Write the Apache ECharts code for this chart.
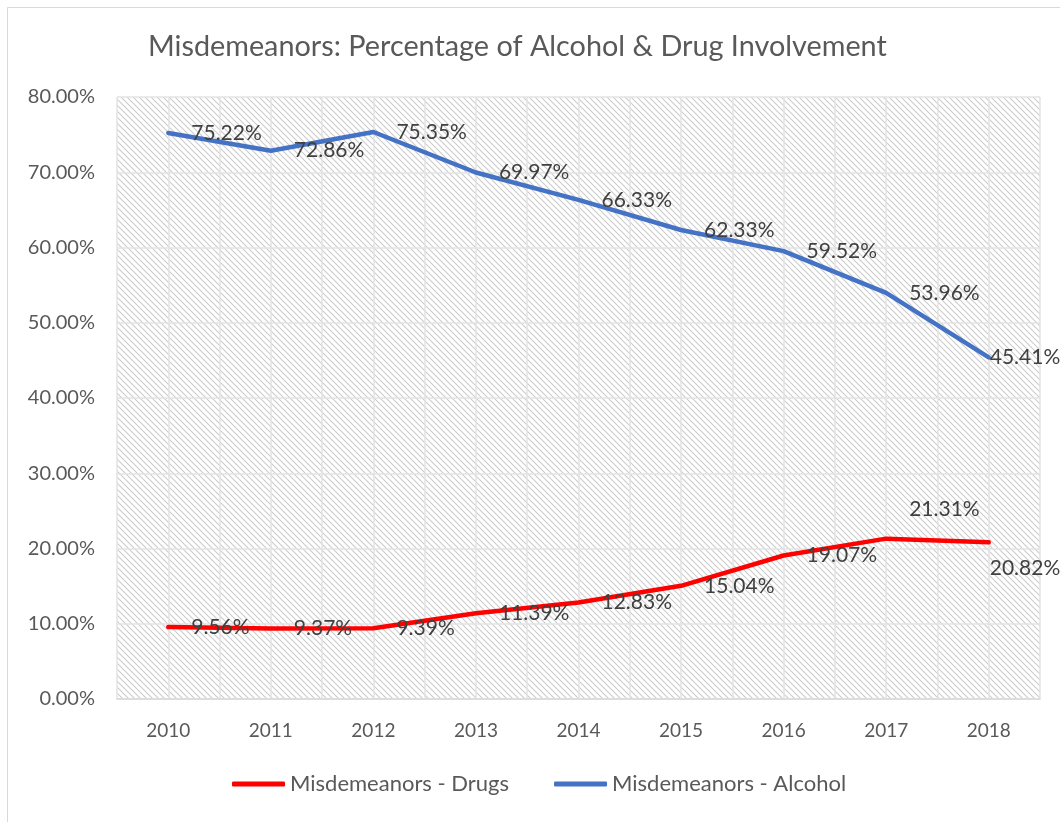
<!DOCTYPE html>
<html>
<head>
<meta charset="utf-8">
<script src="https://cdn.jsdelivr.net/npm/echarts@6/dist/echarts.min.js"></script>
<style>html,body{margin:0;padding:0;background:#fff}#c{width:1060px;height:822px}</style>
</head>
<body>
<div id="c"></div>
<script>
const years = ['2010','2011','2012','2013','2014','2015','2016','2017','2018'];
const drugs = [9.56, 9.37, 9.39, 11.39, 12.83, 15.04, 19.07, 21.31, 20.82];
const alcohol = [75.22, 72.86, 75.35, 69.97, 66.33, 62.33, 59.52, 53.96, 45.41];
const yTicks = [0, 10, 20, 30, 40, 50, 60, 70, 80];
const titleText = 'Misdemeanors: Percentage of Alcohol & Drug Involvement';
const seriesNames = ['Misdemeanors - Drugs', 'Misdemeanors - Alcohol'];

// hatch pattern
const P = 6;
const pc = document.createElement('canvas');
pc.width = P; pc.height = P;
const g = pc.getContext('2d');
g.fillStyle = '#ffffff'; g.fillRect(0,0,P,P);
g.strokeStyle = '#cccccc'; g.lineWidth = 1.1;
g.beginPath();
g.moveTo(-2,-2); g.lineTo(P+2,P+2);
g.moveTo(-2,P-2); g.lineTo(2,P+2);
g.moveTo(P-2,-2); g.lineTo(P+2,2);
g.stroke();

const halfCats = [];
for (let i = 0; i < years.length * 2; i++) halfCats.push('h' + i);

const font = 'Lato, "Open Sans", sans-serif';
const txt = '#595959';

function mkData(vals, special) {
  return vals.map((v, i) => {
    const o = { value: v };
    if (special[i]) o.label = { offset: special[i] };
    return o;
  });
}

const chart = echarts.init(document.getElementById('c'), null, { renderer: 'canvas' });
chart.setOption({
  animation: false,
  backgroundColor: '#ffffff',
  graphic: [{
    type: 'rect', left: 5, top: 5, silent: true, z: -10,
    shape: { width: 1100, height: 900 },
    style: { fill: 'none', stroke: '#d9d9d9', lineWidth: 1 }
  }],
  title: {
    text: titleText, left: 143, top: 27,
    textStyle: { fontFamily: font, fontSize: 28.8, fontWeight: 'normal', color: txt }
  },
  legend: {
    bottom: 22, left: 227, itemGap: 45, itemWidth: 53, itemHeight: 5,
    icon: 'roundRect',
    data: seriesNames,
    textStyle: { fontFamily: font, fontSize: 22, color: txt }
  },
  grid: {
    left: 117, right: 20, top: 97, bottom: 123, show: true,
    backgroundColor: { image: pc, repeat: 'repeat' }, borderWidth: 0
  },
  xAxis: [{
    type: 'category', data: years, boundaryGap: true,
    axisLine: { show: true, lineStyle: { color: '#d9d9d9', width: 1.5 } },
    axisTick: { show: false },
    splitLine: { show: false },
    axisLabel: { fontFamily: font, fontSize: 19, color: txt, margin: 22 }
  }, {
    type: 'category', data: halfCats, boundaryGap: true, position: 'bottom',
    axisLine: { show: false }, axisTick: { show: false }, axisLabel: { show: false },
    splitLine: { show: true, lineStyle: { color: '#e3e3e3', width: 1.5 } }
  }],
  yAxis: {
    type: 'value', min: yTicks[0], max: yTicks[yTicks.length - 1], interval: 10,
    axisLine: { show: false }, axisTick: { show: false },
    splitLine: { show: true, lineStyle: { color: '#e3e3e3', width: 1.5 } },
    axisLabel: { fontFamily: font, fontSize: 20, color: txt, margin: 22,
      formatter: v => v.toFixed(2) + '%' }
  },
  series: [{
    name: seriesNames[0], type: 'line', xAxisIndex: 0,
    data: mkData(drugs, { 7: [0, -29], 8: [-22, 26] }),
    symbol: 'circle', symbolSize: 0, showSymbol: true,
    lineStyle: { color: '#ff0000', width: 4.5, cap: 'round', join: 'round' },
    itemStyle: { color: '#ff0000' },
    label: { show: true, position: 'right', distance: 23, fontFamily: font, fontSize: 21, color: '#404040',
      formatter: p => p.value.toFixed(2) + '%' },
    z: 3
  }, {
    name: seriesNames[1], type: 'line', xAxisIndex: 0,
    data: mkData(alcohol, { 8: [-22, 0] }),
    symbol: 'circle', symbolSize: 0, showSymbol: true,
    lineStyle: { color: '#4472c4', width: 4.5, cap: 'round', join: 'round' },
    itemStyle: { color: '#4472c4' },
    label: { show: true, position: 'right', distance: 23, fontFamily: font, fontSize: 21, color: '#404040',
      formatter: p => p.value.toFixed(2) + '%' },
    z: 3
  }]
});
</script>
</body>
</html>
